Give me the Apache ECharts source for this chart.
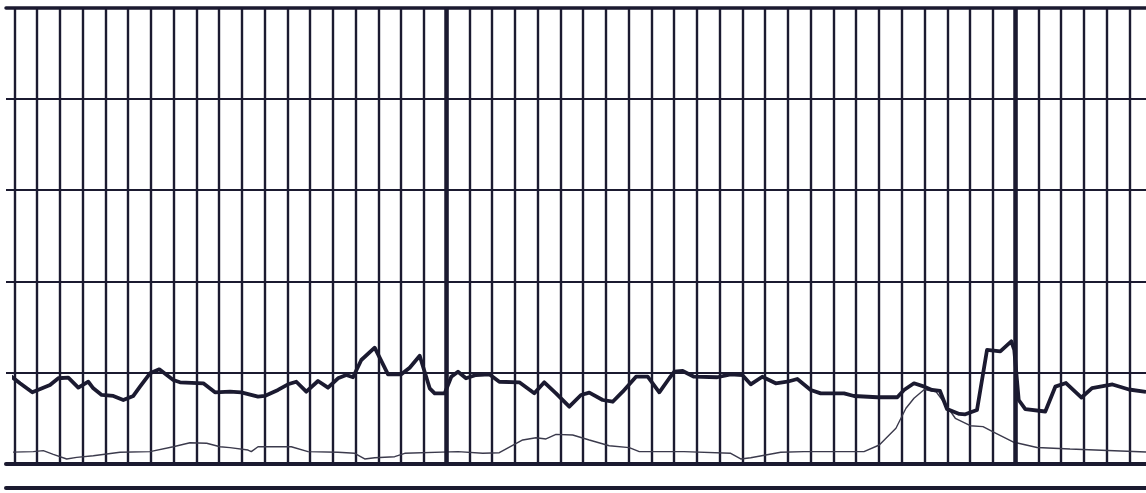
<!DOCTYPE html>
<html>
<head>
<meta charset="utf-8">
<script src="https://cdn.jsdelivr.net/npm/echarts@6/dist/echarts.min.js"></script>
<style>html,body{margin:0;padding:0;background:#fff}#c{width:1146px;height:493px}</style>
</head>
<body>
<div id="c"></div>
<script>
// x in grid-column units, y in grid-row units
const thickX = [-0.365,-0.114,0.250,0.791,1.274,1.569,1.934,2.373,2.813,3.252,3.472,3.841,4.351,4.790,5.230,5.524,5.964,6.372,6.987,7.282,8.306,8.820,9.479,9.976,10.710,11.004,11.589,12.028,12.393,12.832,13.347,13.786,14.225,14.590,14.885,15.249,15.838,16.423,17.007,17.376,17.816,18.255,18.475,18.914,19.204,19.499,19.851,20.290,20.874,21.314,22.193,22.852,23.292,23.806,24.390,24.904,25.269,25.858,26.298,26.737,27.322,27.836,28.346,28.785,29.005,29.374,29.870,30.894,31.484,31.993,32.362,32.872,33.461,33.971,34.410,34.999,35.439,36.464,36.902,37.926,38.805,39.099,39.538,39.991,40.330,40.681,40.989,41.529,41.793,42.307,42.747,43.331,43.814,43.946,44.140,44.430,45.309,45.748,46.218,46.900,47.361,48.262,48.987,49.734];
const thickY = [0.939,0.956,0.884,0.785,0.836,0.865,0.939,0.945,0.836,0.901,0.829,0.756,0.745,0.701,0.745,0.847,0.993,1.037,0.920,0.895,0.884,0.785,0.792,0.785,0.737,0.745,0.811,0.873,0.901,0.792,0.909,0.836,0.939,0.975,0.950,1.139,1.274,0.982,0.982,1.055,1.186,0.829,0.774,0.774,0.956,1.011,0.939,0.975,0.982,0.901,0.895,0.774,0.895,0.774,0.628,0.756,0.781,0.701,0.682,0.792,0.956,0.956,0.785,0.939,1.011,1.019,0.956,0.950,0.982,0.975,0.873,0.956,0.884,0.901,0.931,0.811,0.774,0.774,0.745,0.731,0.731,0.811,0.884,0.847,0.811,0.800,0.602,0.548,0.544,0.591,1.249,1.234,1.344,1.249,0.701,0.602,0.575,0.847,0.887,0.728,0.832,0.871,0.816,0.789];
const thinX = [-0.365,0.835,1.274,1.714,2.303,2.742,3.472,4.645,5.964,6.987,7.721,8.455,9.040,9.479,10.270,10.415,10.710,12.173,12.907,14.225,14.959,15.399,15.838,16.717,17.157,19.499,20.585,21.314,22.342,22.927,23.366,23.806,24.540,25.269,26.148,27.027,27.466,29.431,31.484,31.923,32.362,33.681,34.705,37.341,38.013,38.745,39.185,39.538,39.991,40.505,40.945,41.354,42.013,42.571,43.143,43.890,44.945,46.395,48.065,49.734];
const thinY = [0.128,0.135,0.146,0.106,0.055,0.073,0.091,0.128,0.135,0.189,0.233,0.227,0.189,0.179,0.153,0.135,0.189,0.189,0.135,0.128,0.117,0.055,0.069,0.080,0.117,0.135,0.117,0.124,0.263,0.288,0.274,0.325,0.318,0.263,0.200,0.179,0.135,0.135,0.117,0.055,0.069,0.128,0.135,0.135,0.208,0.391,0.610,0.720,0.816,0.792,0.646,0.501,0.419,0.409,0.336,0.241,0.181,0.164,0.148,0.131];
const majorColumns = [19, 44];
const rowMin = 0, rowMax = 5, colMin = 0, colMax = 50;

const ink = '#1b1a30';
const chart = echarts.init(document.getElementById('c'), null, {renderer: 'canvas'});
const zip = (xs, ys) => xs.map((x, i) => [x, ys[i]]);
chart.setOption({
  animation: false,
  backgroundColor: '#ffffff',
  grid: [
    {left: 6, right: 0, top: 7.5, bottom: 29, outerBoundsMode: 'none', containLabel: false},
    {left: 14.3, width: 1137.75, top: 7.5, bottom: 29, outerBoundsMode: 'none', containLabel: false},
    {left: 6, right: 0, top: 486, height: 2, outerBoundsMode: 'none', containLabel: false}
  ],
  xAxis: [
    {gridIndex: 0, type: 'value', min: 0, max: 1, position: 'bottom',
     axisLine: {show: true, lineStyle: {color: ink, width: 4}}, axisTick: {show: false}, axisLabel: {show: false}, splitLine: {show: false}},
    {gridIndex: 0, type: 'value', min: 0, max: 1, position: 'top',
     axisLine: {show: true, lineStyle: {color: ink, width: 3.5}}, axisTick: {show: false}, axisLabel: {show: false}, splitLine: {show: false}},
    {gridIndex: 1, type: 'value', min: colMin, max: colMax, interval: 1,
     axisLine: {show: false}, axisTick: {show: false}, axisLabel: {show: false},
     splitLine: {show: true, lineStyle: {color: ink, width: 2.4}}},
    {gridIndex: 2, type: 'value', min: 0, max: 1, position: 'bottom',
     axisLine: {show: true, lineStyle: {color: ink, width: 4}}, axisTick: {show: false}, axisLabel: {show: false}, splitLine: {show: false}}
  ],
  yAxis: [
    {gridIndex: 0, type: 'value', min: rowMin, max: rowMax, interval: 1,
     axisLine: {show: false}, axisTick: {show: false}, axisLabel: {show: false},
     splitLine: {show: true, lineStyle: {color: ink, width: 2}}},
    {gridIndex: 1, type: 'value', min: rowMin, max: rowMax, show: false, splitLine: {show: false}},
    {gridIndex: 2, type: 'value', min: 0, max: 1, show: false, splitLine: {show: false}}
  ],
  series: [
    {type: 'line', xAxisIndex: 2, yAxisIndex: 1, data: zip(thinX, thinY), showSymbol: false, clip: false,
     lineStyle: {color: '#3b3a4c', width: 1.4}, z: 3},
    {type: 'line', xAxisIndex: 2, yAxisIndex: 1, data: zip(thickX, thickY), showSymbol: false, clip: false,
     lineStyle: {color: ink, width: 3.8, join: 'round'}, z: 4,
     markLine: {silent: true, symbol: ['none', 'none'], label: {show: false},
       lineStyle: {color: ink, width: 4.5, type: 'solid'},
       data: majorColumns.map(c => ({xAxis: c}))}}
  ]
});
</script>
</body>
</html>
